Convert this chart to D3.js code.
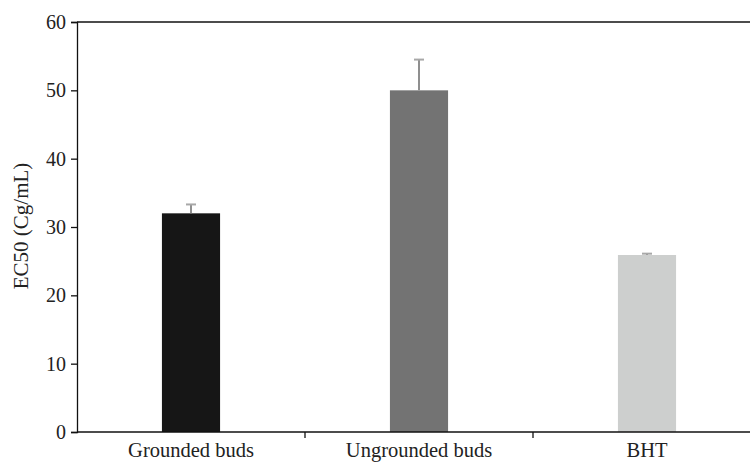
<!DOCTYPE html>
<html>
<head>
<meta charset="utf-8">
<script src="https://cdnjs.cloudflare.com/ajax/libs/d3/7.8.5/d3.min.js"></script>
<style>
  body { margin: 0; background: #fff; }
  svg text { font-family: "Liberation Serif", "DejaVu Serif", serif; fill: #222; }
</style>
</head>
<body>
<div id="chart"></div>
<script>
// data
const categories = ["Grounded buds", "Ungrounded buds", "BHT"];
const ec50 = [32.0, 50.0, 25.9];
const ec50Err = [1.3, 4.5, 0.2];
const barColors = ["#161616", "#737373", "#cdcfce"];
const yTicks = [0, 10, 20, 30, 40, 50, 60];

const width = 750, height = 462;
const margin = { top: 22, right: -11, bottom: 30, left: 77 };

const svg = d3.select("#chart").append("svg")
    .attr("width", width)
    .attr("height", height);

const x = d3.scaleBand()
    .domain(categories)
    .range([margin.left, width - margin.right])
    .padding(0);

const y = d3.scaleLinear()
    .domain([0, 60])
    .range([height - margin.bottom, margin.top]);

const barW = x.bandwidth() * 0.255;
const rows = categories.map((c, i) => ({ cat: c, val: ec50[i], err: ec50Err[i], color: barColors[i] }));

// bars
svg.append("g").selectAll("rect")
    .data(rows)
    .join("rect")
    .attr("x", d => x(d.cat) + x.bandwidth() / 2 - barW / 2)
    .attr("y", d => y(d.val))
    .attr("width", barW)
    .attr("height", d => y(0) - y(d.val))
    .attr("fill", d => d.color);

// upper error bars
const eb = svg.append("g");
eb.selectAll("line.stem")
    .data(rows)
    .join("line")
    .attr("class", "stem")
    .attr("x1", d => x(d.cat) + x.bandwidth() / 2)
    .attr("x2", d => x(d.cat) + x.bandwidth() / 2)
    .attr("y1", d => y(d.val))
    .attr("y2", d => y(d.val + d.err))
    .attr("stroke", "#8f8f8f")
    .attr("stroke-width", 2);
eb.selectAll("line.cap")
    .data(rows)
    .join("line")
    .attr("class", "cap")
    .attr("x1", d => x(d.cat) + x.bandwidth() / 2 - 5)
    .attr("x2", d => x(d.cat) + x.bandwidth() / 2 + 5)
    .attr("y1", d => y(d.val + d.err))
    .attr("y2", d => y(d.val + d.err))
    .attr("stroke", "#a8a8a8")
    .attr("stroke-width", 2);

// top frame line
svg.append("line")
    .attr("x1", margin.left).attr("x2", width)
    .attr("y1", y(60)).attr("y2", y(60))
    .attr("stroke", "#111").attr("stroke-width", 1.3);

// y axis
const yAxis = svg.append("g")
    .attr("transform", `translate(${margin.left},0)`)
    .call(d3.axisLeft(y).tickValues(yTicks).tickSize(6).tickPadding(5));
yAxis.selectAll("path, line").attr("stroke", "#111").attr("stroke-width", 1.3);
yAxis.selectAll("text").style("font-size", "20px").attr("fill", "#222");

// x axis: line with ticks at category boundaries
const xAxis = svg.append("g").attr("transform", `translate(0,${y(0)})`);
xAxis.append("line")
    .attr("x1", margin.left).attr("x2", width)
    .attr("stroke", "#111").attr("stroke-width", 1.3);
xAxis.selectAll("line.tick")
    .data(categories.slice(1))
    .join("line")
    .attr("class", "tick")
    .attr("x1", d => x(d)).attr("x2", d => x(d))
    .attr("y1", 0).attr("y2", 6)
    .attr("stroke", "#111").attr("stroke-width", 1.3);
xAxis.selectAll("text")
    .data(categories)
    .join("text")
    .attr("x", d => x(d) + x.bandwidth() / 2)
    .attr("y", 24.5)
    .attr("text-anchor", "middle")
    .style("font-size", "20.5px")
    .text(d => d);

// y axis title
svg.append("text")
    .attr("transform", "translate(28,226) rotate(-90)")
    .attr("text-anchor", "middle")
    .style("font-size", "21px")
    .text("EC50 (Cg/mL)");
</script>
</body>
</html>
